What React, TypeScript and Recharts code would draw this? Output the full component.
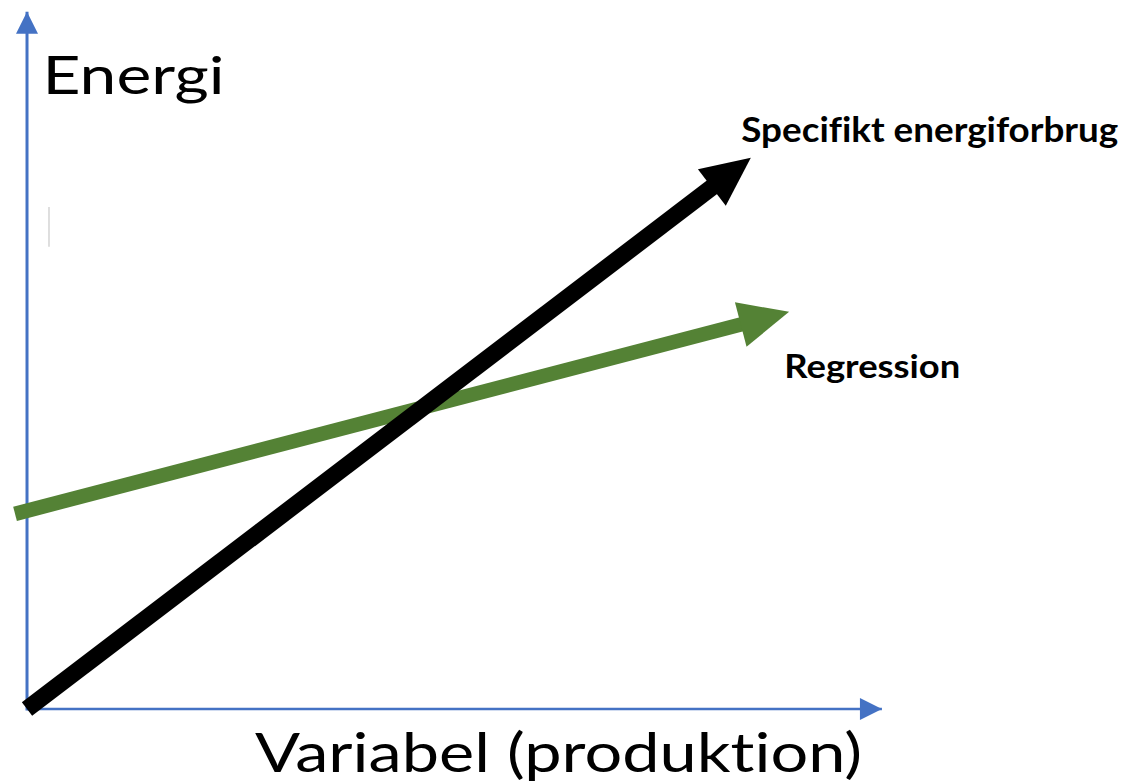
import React from 'react';
import { ComposedChart, Line, XAxis, YAxis, ReferenceDot } from 'recharts';

// Schematic units: x-axis runs 0..100, y-axis runs 0..100
const xAxisLine = [{ x: 0, y: 0 }, { x: 100, y: 0 }];
const yAxisLine = [{ x: 0, y: -0.2 }, { x: 0, y: 100 }];
const specifiktSeries = [{ x: 0, y: 0 }, { x: 80.2, y: 74.9 }];
const regressionSeries = [{ x: -1.4, y: 28.0 }, { x: 83.6, y: 55.2 }];
const faintMark = [{ x: 2.57, y: 72.0 }, { x: 2.57, y: 66.3 }];

const yAxisTitle = 'Energi';
const xAxisTitle = 'Variabel (produktion)';
const specifiktLabel = 'Specifikt energiforbrug';
const regressionLabel = 'Regression';

const AXIS_BLUE = '#4472C4';
const GREEN = '#548235';
const FONT = 'Lato, "Noto Sans", sans-serif';

const makeLabel = (text: string, size: number, weight: number | string, length: number) => (props: any) => {
  const vb = props.viewBox || {};
  return (
    <text
      x={vb.x}
      y={vb.y}
      fontFamily={FONT}
      fontSize={size}
      fontWeight={weight}
      fill="#000"
      textAnchor="start"
      textLength={length}
      lengthAdjust="spacingAndGlyphs"
      style={{ fontVariantLigatures: 'none', fontFeatureSettings: '"liga" 0, "dlig" 0' }}
    >
      {text}
    </text>
  );
};

export default function App() {
  return (
    <div style={{ position: 'absolute', left: 0, top: 0, background: '#fff' }}>
      <svg width={0} height={0} style={{ position: 'absolute' }}>
        <defs>
          <marker id="axisHead" markerUnits="userSpaceOnUse" markerWidth={24} markerHeight={22} refX={22} refY={11} orient="auto" overflow="visible">
            <path d="M0,0 L22,11 L0,22 Z" fill={AXIS_BLUE} />
          </marker>
          <marker id="blackHead" markerUnits="userSpaceOnUse" markerWidth={50} markerHeight={48} refX={1} refY={24} orient="auto" overflow="visible">
            <path d="M0,1 L49,24 L0,47 Z" fill="#000" />
          </marker>
          <marker id="greenHead" markerUnits="userSpaceOnUse" markerWidth={52} markerHeight={48} refX={1} refY={24} orient="auto" overflow="visible">
            <path d="M0,1 L50,24 L0,47 Z" fill={GREEN} />
          </marker>
        </defs>
      </svg>
      <ComposedChart width={1123} height={783} margin={{ top: 0, right: 0, bottom: 0, left: 0 }}>
        <XAxis type="number" dataKey="x" domain={[-3.16, 128.2]} hide />
        <YAxis type="number" dataKey="y" domain={[-10.6, 101.7]} hide />
        <Line data={xAxisLine} dataKey="y" type="linear" stroke={AXIS_BLUE} strokeWidth={2.5} dot={false} activeDot={false} isAnimationActive={false} markerEnd="url(#axisHead)" />
        <Line data={yAxisLine} dataKey="y" type="linear" stroke={AXIS_BLUE} strokeWidth={3} dot={false} activeDot={false} isAnimationActive={false} markerEnd="url(#axisHead)" />
        <Line data={faintMark} dataKey="y" type="linear" stroke="#d4d4d4" strokeWidth={1.5} dot={false} activeDot={false} isAnimationActive={false} />
        <Line data={regressionSeries} dataKey="y" type="linear" stroke={GREEN} strokeWidth={14.5} strokeLinecap="butt" dot={false} activeDot={false} isAnimationActive={false} markerEnd="url(#greenHead)" />
        <Line data={specifiktSeries} dataKey="y" type="linear" stroke="#000" strokeWidth={17} strokeLinecap="butt" dot={false} activeDot={false} isAnimationActive={false} markerEnd="url(#blackHead)" />
        <ReferenceDot x={1.81} y={88.24} r={0} fill="none" stroke="none" label={makeLabel(yAxisTitle, 52.5, 400, 182)} />
        <ReferenceDot x={26.67} y={-9.04} r={0} fill="none" stroke="none" label={makeLabel(xAxisTitle, 54.5, 400, 607)} />
        <ReferenceDot x={83.55} y={81.35} r={0} fill="none" stroke="none" label={makeLabel(specifiktLabel, 33.5, 700, 377)} />
        <ReferenceDot x={88.58} y={47.5} r={0} fill="none" stroke="none" label={makeLabel(regressionLabel, 32, 700, 176)} />
      </ComposedChart>
    </div>
  );
}
